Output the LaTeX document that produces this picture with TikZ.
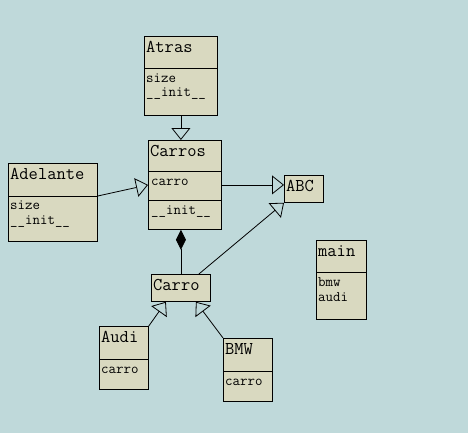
\documentclass[tikz,border=0pt]{standalone}
\usepackage{fontspec}
\usetikzlibrary{arrows.meta,calc}
\definecolor{bgcol}{HTML}{BFD9DA}
\definecolor{boxcol}{HTML}{D9D9C0}
\tikzset{
    >={Triangle[open,length=12pt,width=19pt]},
    cls/.style={draw=black,fill=boxcol,anchor=north west,inner sep=0pt,line width=0.8pt},
    clsname/.style={anchor=base west,inner sep=0pt,font=\ttfamily\fontsize{18}{20}\selectfont},
    member/.style={anchor=base west,inner sep=0pt,font=\ttfamily\fontsize{14.5}{16}\selectfont},
    inherit/.style={->,line width=0.8pt},
    compose/.style={{Diamond[length=20pt,width=10pt]}-,line width=0.8pt},
}

\begin{document}
\begin{tikzpicture}[x=1pt,y=-1pt]
    \useasboundingbox[fill=bgcol] (0,0) rectangle (468,433);

    % classes
    \node[cls,minimum width=73pt,minimum height=79pt] (Atras) at (144,36) {};
    \draw ($(Atras.north west)+(0,32)$) -- ($(Atras.north east)+(0,32)$);
    \node[clsname] (Atras-n) at (146,53) {Atras};
    \node[member] (Atras-a) at (146,83) {size};
    \node[member] (Atras-b) at (146,97) {\_\_init\_\_};

    \node[cls,minimum width=73pt,minimum height=89pt] (Carros) at (148,140) {};
    \draw ($(Carros.north west)+(0,31.5)$) -- ($(Carros.north east)+(0,31.5)$);
    \draw ($(Carros.north west)+(0,60)$) -- ($(Carros.north east)+(0,60)$);
    \node[clsname] (Carros-n) at (150,156) {Carros};
    \node[member] (Carros-a) at (151,185) {carro};
    \node[member] (Carros-b) at (151,214) {\_\_init\_\_};

    \node[cls,minimum width=89pt,minimum height=78pt] (Adelante) at (8,163) {};
    \draw ($(Adelante.north west)+(0,33)$) -- ($(Adelante.north east)+(0,33)$);
    \node[clsname] (Adelante-n) at (10,179) {Adelante};
    \node[member] (Adelante-a) at (10,209) {size};
    \node[member] (Adelante-b) at (10,224) {\_\_init\_\_};

    \node[cls,minimum width=39pt,minimum height=27pt] (ABC) at (284,175) {};
    \node[clsname] (ABC-n) at (286,191) {ABC};

    \node[cls,minimum width=50pt,minimum height=79pt] (main) at (316,240) {};
    \draw ($(main.north west)+(0,32)$) -- ($(main.north east)+(0,32)$);
    \node[clsname] (main-n) at (318,256) {main};
    \node[member] (main-a) at (318,286) {bmw};
    \node[member] (main-b) at (318,301) {audi};

    \node[cls,minimum width=59pt,minimum height=27pt] (Carro) at (151,274) {};
    \node[clsname] (Carro-n) at (153,290) {Carro};

    \node[cls,minimum width=49pt,minimum height=63pt] (Audi) at (99,326) {};
    \draw ($(Audi.north west)+(0,33)$) -- ($(Audi.north east)+(0,33)$);
    \node[clsname] (Audi-n) at (101,342) {Audi};
    \node[member] (Audi-a) at (101,373) {carro};

    \node[cls,minimum width=49pt,minimum height=63pt] (BMW) at (223,338) {};
    \draw ($(BMW.north west)+(0,33)$) -- ($(BMW.north east)+(0,33)$);
    \node[clsname] (BMW-n) at (225,354) {BMW};
    \node[member] (BMW-a) at (225,385) {carro};

    % relations
    \draw[inherit] (Atras.south) -- (Atras.south |- Carros.north);
    \draw[inherit] ($(Adelante.north east)+(0,33)$) -- (Carros.west);
    \draw[inherit] (Carros.east) -- (Carros.east -| ABC.west);
    \draw[inherit] ($(Carro.north)+(18,0)$) -- (ABC.south west);
    \draw[compose] (Carro.north |- Carros.south) -- (Carro.north);
    \draw[inherit] (Audi.north east) -- ($(Carro.south)+(-15,0)$);
    \draw[inherit] (BMW.north west) -- ($(Carro.south)+(15,0)$);
\end{tikzpicture}
\end{document}
